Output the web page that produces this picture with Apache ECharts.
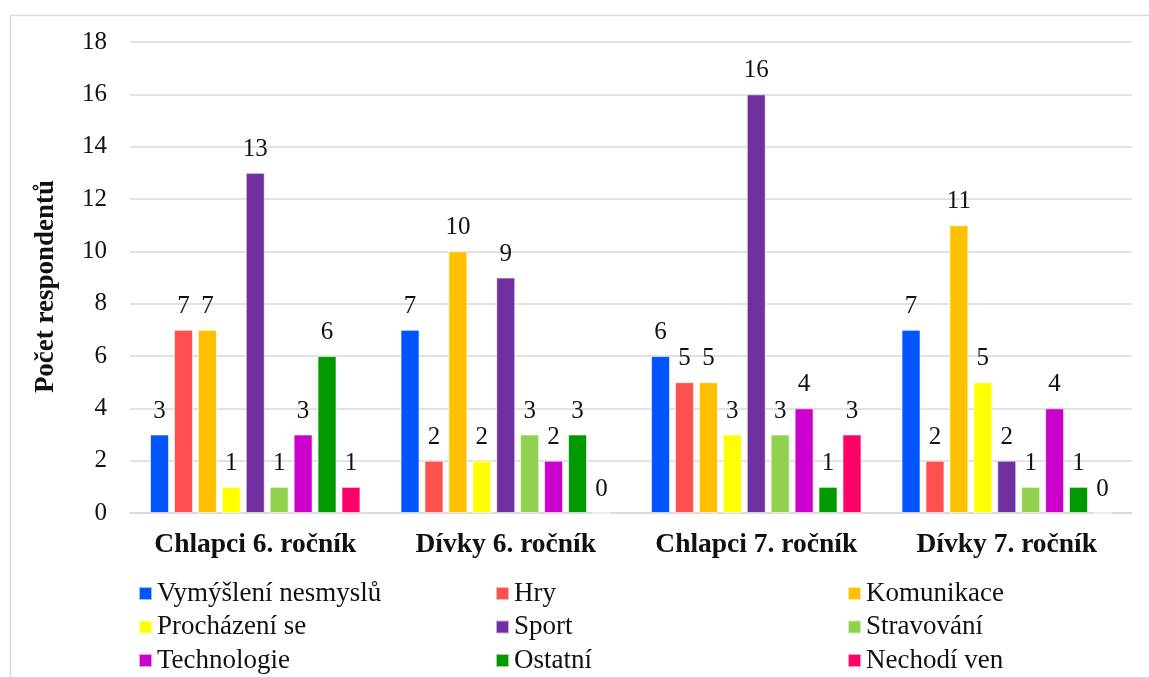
<!DOCTYPE html>
<html>
<head>
<meta charset="utf-8">
<script src="https://cdn.jsdelivr.net/npm/echarts@6/dist/echarts.min.js"></script>
<style>
  html, body { margin: 0; padding: 0; background: #fff; }
  #chart { width: 1149px; height: 677px; }
</style>
</head>
<body>
<div id="chart"></div>
<script>
var categories = ['Chlapci 6. ročník', 'Dívky 6. ročník', 'Chlapci 7. ročník', 'Dívky 7. ročník'];
var seriesNames = ['Vymýšlení nesmyslů', 'Hry', 'Komunikace', 'Procházení se', 'Sport',
    'Stravování', 'Technologie', 'Ostatní', 'Nechodí ven'];
var colors = ['#0055FF', '#FF5050', '#FFC000', '#FFFF00', '#7030A0',
    '#92D050', '#CC00CC', '#009900', '#FF0066'];

var vymysleni = [3, 7, 6, 7];
var hry = [7, 2, 5, 2];
var komunikace = [7, 10, 5, 11];
var prochazeni = [1, 2, 3, 5];
var sport = [13, 9, 16, 2];
var stravovani = [1, 3, 3, 1];
var technologie = [3, 2, 4, 4];
var ostatni = [6, 3, 1, 1];
var nechodi = [1, 0, 3, 0];

var values = [vymysleni, hry, komunikace, prochazeni, sport, stravovani, technologie, ostatni, nechodi];

var font = '"Liberation Serif", "Times New Roman", serif';

var el = document.getElementById('chart');
var myChart = echarts.init(el);

var series = seriesNames.map(function (name, i) {
    return {
        name: name,
        type: 'bar',
        data: values[i],
        barGap: '26%',
        barCategoryGap: '16%',
        itemStyle: {
            color: colors[i],
            borderColor: 'rgba(255,255,255,0.6)',
            borderWidth: 1
        },
        label: {
            show: true,
            position: 'top',
            distance: 11,
            fontFamily: font,
            fontSize: 25,
            color: '#111'
        }
    };
});

// one vertical legend per column, 3 rows each
function legendCol(names, left) {
    return {
        data: names,
        orient: 'vertical',
        left: left,
        top: 580,
        padding: 0,
        itemWidth: 13,
        itemHeight: 13,
        itemGap: 6.5,
        icon: 'rect',
        textStyle: {
            fontFamily: font,
            fontSize: 27,
            color: '#111'
        }
    };
}

var option = {
    animation: false,
    textStyle: { fontFamily: font },
    graphic: [{
        type: 'rect',
        left: 8,
        top: 13,
        shape: { width: 1160, height: 700 },
        style: { fill: 'none', stroke: '#d9d9d9', lineWidth: 1.5 },
        silent: true
    }],
    legend: [
        legendCol([seriesNames[0], seriesNames[3], seriesNames[6]], 138),
        legendCol([seriesNames[1], seriesNames[4], seriesNames[7]], 495),
        legendCol([seriesNames[2], seriesNames[5], seriesNames[8]], 847)
    ],
    grid: {
        left: 130,
        right: 17,
        top: 42,
        bottom: 164,
        containLabel: false
    },
    xAxis: {
        type: 'category',
        data: categories,
        axisLine: { lineStyle: { color: '#d9d9d9', width: 1.5 } },
        axisTick: { show: false },
        axisLabel: {
            interval: 0,
            fontFamily: font,
            fontSize: 27.5,
            fontWeight: 'bold',
            color: '#111',
            margin: 18
        }
    },
    yAxis: {
        type: 'value',
        min: 0,
        max: 18,
        interval: 2,
        name: 'Počet respondentů',
        nameLocation: 'middle',
        nameGap: 70,
        nameTextStyle: {
            fontFamily: font,
            fontSize: 27,
            fontWeight: 'bold',
            color: '#111',
            padding: [0, 18, 0, 0]
        },
        axisLine: { show: false },
        axisTick: { show: false },
        axisLabel: {
            fontFamily: font,
            fontSize: 25,
            color: '#111',
            margin: 23
        },
        splitLine: { lineStyle: { color: '#d9d9d9', width: 1.5 } }
    },
    series: series
};

myChart.setOption(option);
</script>
</body>
</html>
